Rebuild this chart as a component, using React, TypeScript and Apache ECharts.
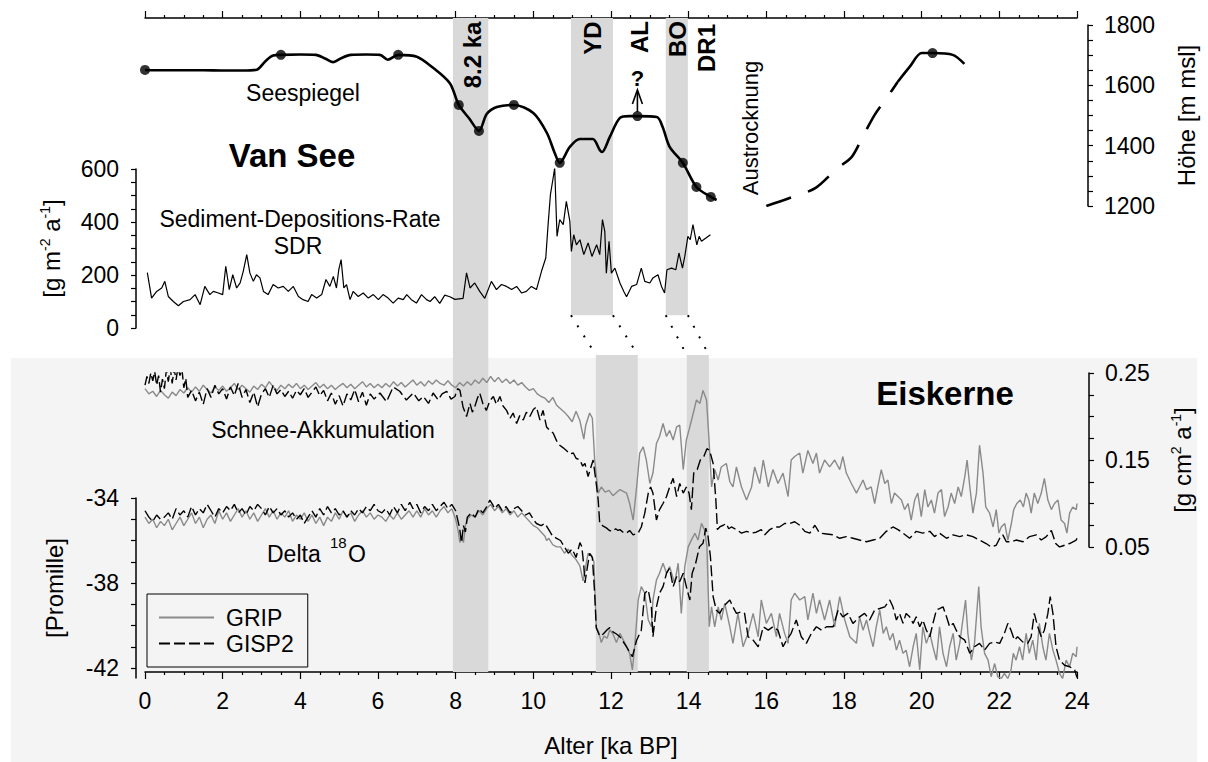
import React, { useEffect, useRef } from "react";
import * as echarts from "echarts";

const FONT = "'Liberation Sans', Arial, Helvetica, sans-serif";

// ---------- DATA (age in ka BP, value) ----------
const LAKE_LEVEL: [number, number][] = [
  [0, 1651], [0.5, 1650], [1.0, 1650], [1.5, 1650], [2.0, 1649], [2.5, 1649], [2.88, 1652], [3.1, 1680], [3.3, 1699], [3.5, 1701],
  [4.0, 1702], [4.4, 1701], [4.65, 1688], [4.85, 1677], [5.05, 1690], [5.3, 1701], [5.7, 1702], [6.05, 1701], [6.25, 1685], [6.52, 1701],
  [7.0, 1695], [7.4, 1660], [7.85, 1607], [8.08, 1535], [8.35, 1490], [8.6, 1449], [8.8, 1505], [9.06, 1528], [9.5, 1535], [10.0, 1508],
  [10.35, 1442], [10.55, 1376], [10.68, 1343], [10.94, 1396], [11.2, 1422], [11.53, 1422], [11.71, 1386], [11.77, 1379], [11.97, 1429],
  [12.23, 1492], [12.48, 1498], [12.68, 1498], [13.18, 1495], [13.33, 1462], [13.51, 1396], [13.85, 1343], [14.2, 1263], [14.57, 1230], [14.72, 1220],
];
const LAKE_LEVEL_RECONSTRUCTED: [number, number][] = [
  [16.0, 1200], [16.68, 1230], [17.27, 1260], [17.81, 1323], [18.2, 1363], [18.48, 1429], [18.79, 1502], [19.12, 1562], [19.38, 1611],
];
const LAKE_LEVEL_LGM: [number, number][] = [
  [19.38, 1611], [19.69, 1661], [20.0, 1707], [20.28, 1707], [20.8, 1701], [21.1, 1671],
];
const LAKE_DATED_POINTS: [number, number][] = [
  [0, 1651], [3.5, 1701], [6.52, 1701], [8.08, 1535], [8.6, 1449], [9.5, 1535], [10.68, 1343], [12.68, 1498],
  [13.85, 1343], [14.2, 1263], [14.57, 1230], [20.28, 1707],
];
const QUESTION_AGE = 12.68;

const SDR: [number, number][] = [
  [0.06, 209], [0.17, 113], [0.30, 138], [0.43, 151], [0.51, 176], [0.60, 119], [0.73, 100], [0.86, 84], [0.99, 100], [1.16, 107],
  [1.29, 126], [1.42, 88], [1.54, 157], [1.67, 126], [1.76, 138], [1.89, 132], [2.00, 126], [2.08, 233], [2.17, 145], [2.26, 201],
  [2.36, 151], [2.45, 170], [2.53, 214], [2.62, 277], [2.70, 208], [2.79, 176], [2.87, 201], [2.96, 189], [3.05, 138], [3.17, 126],
  [3.30, 164], [3.43, 151], [3.56, 157], [3.69, 138], [3.82, 157], [3.95, 119], [4.07, 107], [4.20, 100], [4.29, 126], [4.42, 113],
  [4.55, 126], [4.66, 183], [4.76, 157], [4.85, 195], [4.93, 151], [4.99, 220], [5.05, 258], [5.12, 151], [5.19, 164], [5.28, 107],
  [5.36, 138], [5.49, 119], [5.62, 132], [5.75, 113], [5.88, 126], [6.01, 107], [6.13, 126], [6.26, 113], [6.39, 94], [6.52, 113],
  [6.65, 107], [6.74, 126], [6.86, 107], [6.99, 94], [7.12, 126], [7.25, 107], [7.34, 100], [7.46, 118], [7.59, 93], [7.72, 124],
  [7.85, 118], [7.98, 108], [8.19, 112], [8.28, 208], [8.37, 151], [8.49, 170], [8.62, 138], [8.75, 112], [8.92, 176], [9.05, 145],
  [9.18, 164], [9.31, 157], [9.44, 145], [9.57, 157], [9.70, 132], [9.82, 138], [9.95, 157], [10.08, 145], [10.21, 214], [10.32, 264],
  [10.38, 390], [10.44, 503], [10.51, 566], [10.55, 604], [10.61, 346], [10.68, 409], [10.77, 390], [10.85, 478], [10.94, 403], [10.98, 289],
  [11.04, 352], [11.11, 314], [11.20, 333], [11.30, 277], [11.41, 321], [11.51, 270], [11.63, 314], [11.71, 277], [11.78, 409], [11.84, 365],
  [11.88, 207], [11.95, 327], [12.01, 207], [12.10, 226], [12.23, 170], [12.33, 138], [12.40, 118], [12.53, 157], [12.66, 164], [12.78, 226],
  [12.87, 176], [13.00, 170], [13.08, 189], [13.21, 201], [13.30, 157], [13.38, 132], [13.44, 220], [13.56, 226], [13.67, 220], [13.75, 283],
  [13.84, 226], [13.90, 270], [13.98, 346], [14.04, 333], [14.11, 390], [14.21, 314], [14.27, 346], [14.33, 327], [14.56, 352],
];

const GRIP_ACCUMULATION: [number, number][] = [
  [0.0, 0.232], [0.1, 0.226], [0.2, 0.229], [0.3, 0.223], [0.4, 0.230], [0.5, 0.225], [0.6, 0.221], [0.7, 0.228], [0.8, 0.224], [0.9, 0.231],
  [1.0, 0.227], [1.1, 0.233], [1.2, 0.228], [1.3, 0.234], [1.4, 0.229], [1.5, 0.236], [1.6, 0.231], [1.7, 0.227], [1.8, 0.234], [1.9, 0.230],
  [2.0, 0.235], [2.1, 0.229], [2.2, 0.233], [2.3, 0.238], [2.4, 0.231], [2.5, 0.236], [2.6, 0.232], [2.7, 0.228], [2.8, 0.235], [2.9, 0.231],
  [3.0, 0.237], [3.1, 0.233], [3.2, 0.240], [3.3, 0.234], [3.4, 0.230], [3.5, 0.236], [3.6, 0.232], [3.7, 0.237], [3.8, 0.233], [3.9, 0.238],
  [4.0, 0.232], [4.1, 0.236], [4.2, 0.231], [4.3, 0.235], [4.4, 0.239], [4.5, 0.233], [4.6, 0.237], [4.7, 0.232], [4.8, 0.236], [4.9, 0.231],
  [5.0, 0.235], [5.1, 0.238], [5.2, 0.233], [5.3, 0.237], [5.4, 0.232], [5.5, 0.236], [5.6, 0.240], [5.7, 0.234], [5.8, 0.238], [5.9, 0.233],
  [6.0, 0.237], [6.1, 0.233], [6.2, 0.238], [6.3, 0.234], [6.4, 0.240], [6.5, 0.235], [6.6, 0.239], [6.7, 0.234], [6.8, 0.238], [6.9, 0.242],
  [7.0, 0.236], [7.1, 0.240], [7.2, 0.235], [7.3, 0.241], [7.4, 0.237], [7.5, 0.242], [7.6, 0.238], [7.7, 0.236], [7.8, 0.241], [7.9, 0.236],
  [8.0, 0.233], [8.1, 0.239], [8.2, 0.235], [8.3, 0.240], [8.4, 0.236], [8.5, 0.242], [8.6, 0.238], [8.7, 0.244], [8.8, 0.239], [8.9, 0.246],
  [9.0, 0.240], [9.1, 0.245], [9.2, 0.239], [9.3, 0.243], [9.4, 0.238], [9.5, 0.242], [9.6, 0.236], [9.7, 0.239], [9.8, 0.234], [9.9, 0.230],
  [10.0, 0.232], [10.1, 0.226], [10.2, 0.223], [10.3, 0.221], [10.4, 0.216], [10.5, 0.222], [10.6, 0.213], [10.7, 0.209], [10.8, 0.205], [10.9, 0.200],
  [11.0, 0.194], [11.1, 0.206], [11.2, 0.195], [11.3, 0.174], [11.35, 0.190], [11.45, 0.204], [11.52, 0.198], [11.58, 0.150], [11.67, 0.112], [11.75, 0.119],
  [11.85, 0.113], [11.95, 0.115], [12.05, 0.109], [12.15, 0.113], [12.23, 0.116], [12.40, 0.112], [12.48, 0.100], [12.57, 0.081], [12.66, 0.119], [12.74, 0.158],
  [12.83, 0.165], [12.91, 0.150], [13.0, 0.123], [13.08, 0.135], [13.17, 0.169], [13.25, 0.177], [13.34, 0.192], [13.43, 0.177], [13.51, 0.184], [13.6, 0.173],
  [13.69, 0.188], [13.77, 0.190], [13.86, 0.139], [13.94, 0.173], [14.03, 0.188], [14.12, 0.204], [14.2, 0.219], [14.29, 0.215], [14.37, 0.230], [14.46, 0.219],
  [14.53, 0.169], [14.59, 0.119], [14.67, 0.139], [14.76, 0.127], [14.84, 0.142], [14.97, 0.146], [15.06, 0.125], [15.14, 0.119], [15.23, 0.142], [15.36, 0.119],
  [15.49, 0.104], [15.62, 0.119], [15.70, 0.142], [15.83, 0.123], [15.92, 0.150], [16.05, 0.119], [16.17, 0.139], [16.30, 0.123], [16.43, 0.135], [16.56, 0.108],
  [16.64, 0.150], [16.73, 0.154], [16.86, 0.158], [16.94, 0.135], [17.07, 0.161], [17.20, 0.146], [17.29, 0.158], [17.37, 0.135], [17.50, 0.150], [17.63, 0.142],
  [17.76, 0.150], [17.89, 0.139], [17.97, 0.154], [18.06, 0.135], [18.19, 0.123], [18.32, 0.112], [18.40, 0.119], [18.49, 0.127], [18.58, 0.116], [18.70, 0.119],
  [18.79, 0.100], [18.87, 0.119], [18.96, 0.139], [19.05, 0.123], [19.13, 0.127], [19.22, 0.100], [19.30, 0.112], [19.39, 0.108], [19.48, 0.104], [19.56, 0.093],
  [19.65, 0.100], [19.73, 0.081], [19.82, 0.104], [19.90, 0.112], [19.99, 0.085], [20.08, 0.116], [20.16, 0.096], [20.25, 0.104], [20.33, 0.089], [20.42, 0.112],
  [20.51, 0.116], [20.59, 0.085], [20.68, 0.096], [20.76, 0.112], [20.85, 0.100], [20.94, 0.119], [21.02, 0.108], [21.11, 0.131], [21.17, 0.150], [21.24, 0.119],
  [21.32, 0.089], [21.41, 0.112], [21.49, 0.167], [21.58, 0.135], [21.65, 0.096], [21.75, 0.089], [21.84, 0.073], [21.92, 0.093], [21.99, 0.066], [22.05, 0.073],
  [22.14, 0.077], [22.22, 0.058], [22.31, 0.077], [22.37, 0.093], [22.45, 0.100], [22.54, 0.104], [22.62, 0.096], [22.69, 0.112], [22.76, 0.104], [22.82, 0.089],
  [22.90, 0.112], [22.99, 0.100], [23.08, 0.112], [23.16, 0.129], [23.25, 0.104], [23.34, 0.093], [23.42, 0.100], [23.51, 0.104], [23.59, 0.081], [23.68, 0.077],
  [23.74, 0.066], [23.81, 0.089], [23.89, 0.096], [23.98, 0.093], [24.0, 0.100],
];

const GISP2_ACCUMULATION: [number, number][] = [
  [0.0, 0.236], [0.05, 0.246], [0.1, 0.238], [0.15, 0.250], [0.2, 0.241], [0.25, 0.252], [0.3, 0.236], [0.35, 0.247], [0.4, 0.228], [0.45, 0.243],
  [0.5, 0.232], [0.55, 0.254], [0.6, 0.240], [0.65, 0.256], [0.7, 0.238], [0.75, 0.255], [0.8, 0.242], [0.85, 0.257], [0.9, 0.247], [0.95, 0.255],
  [1.0, 0.233], [1.05, 0.244], [1.1, 0.222], [1.2, 0.230], [1.3, 0.218], [1.4, 0.228], [1.5, 0.214], [1.6, 0.232], [1.7, 0.222], [1.8, 0.236],
  [1.9, 0.226], [2.0, 0.232], [2.1, 0.220], [2.2, 0.234], [2.3, 0.224], [2.4, 0.238], [2.5, 0.222], [2.6, 0.231], [2.7, 0.216], [2.8, 0.228],
  [2.9, 0.211], [3.0, 0.226], [3.1, 0.232], [3.2, 0.222], [3.3, 0.236], [3.4, 0.226], [3.5, 0.231], [3.6, 0.223], [3.7, 0.229], [3.8, 0.221],
  [3.9, 0.230], [4.0, 0.225], [4.1, 0.232], [4.2, 0.222], [4.3, 0.228], [4.4, 0.234], [4.5, 0.224], [4.6, 0.230], [4.7, 0.218], [4.8, 0.227],
  [4.9, 0.214], [5.0, 0.224], [5.1, 0.212], [5.2, 0.226], [5.3, 0.219], [5.4, 0.231], [5.5, 0.217], [5.6, 0.228], [5.7, 0.213], [5.8, 0.226],
  [5.9, 0.220], [6.05, 0.227], [6.22, 0.217], [6.39, 0.234], [6.56, 0.229], [6.73, 0.219], [6.91, 0.227], [7.05, 0.218], [7.17, 0.223], [7.3, 0.215],
  [7.42, 0.227], [7.55, 0.219], [7.65, 0.226], [7.77, 0.229], [7.88, 0.220], [7.98, 0.223], [8.05, 0.232], [8.11, 0.230], [8.19, 0.211], [8.28, 0.200],
  [8.37, 0.215], [8.43, 0.205], [8.49, 0.211], [8.56, 0.221], [8.62, 0.227], [8.7, 0.215], [8.79, 0.207], [8.88, 0.218], [8.97, 0.223], [9.05, 0.214],
  [9.14, 0.223], [9.22, 0.212], [9.31, 0.207], [9.4, 0.198], [9.48, 0.204], [9.57, 0.192], [9.65, 0.201], [9.74, 0.196], [9.82, 0.205], [9.91, 0.200],
  [10.0, 0.208], [10.08, 0.211], [10.17, 0.196], [10.25, 0.207], [10.34, 0.188], [10.42, 0.184], [10.51, 0.181], [10.6, 0.172], [10.68, 0.167], [10.77, 0.164],
  [10.85, 0.161], [10.94, 0.157], [11.03, 0.158], [11.1, 0.152], [11.2, 0.150], [11.27, 0.143], [11.33, 0.146], [11.41, 0.131], [11.47, 0.140], [11.54, 0.150],
  [11.62, 0.123], [11.67, 0.104], [11.71, 0.077], [11.8, 0.074], [11.88, 0.072], [11.96, 0.069], [12.05, 0.068], [12.12, 0.071], [12.18, 0.069], [12.23, 0.070],
  [12.31, 0.067], [12.40, 0.066], [12.48, 0.069], [12.57, 0.064], [12.70, 0.066], [12.78, 0.073], [12.87, 0.089], [12.96, 0.112], [13.02, 0.119], [13.08, 0.112],
  [13.17, 0.081], [13.25, 0.093], [13.34, 0.100], [13.43, 0.108], [13.51, 0.119], [13.60, 0.129], [13.69, 0.108], [13.77, 0.123], [13.86, 0.112], [13.94, 0.119],
  [14.01, 0.112], [14.07, 0.093], [14.13, 0.135], [14.22, 0.139], [14.30, 0.150], [14.39, 0.154], [14.47, 0.163], [14.54, 0.161], [14.63, 0.146], [14.70, 0.104],
  [14.74, 0.070], [14.80, 0.073], [14.89, 0.075], [14.97, 0.077], [15.03, 0.071], [15.10, 0.073], [15.23, 0.070], [15.36, 0.066], [15.49, 0.068], [15.62, 0.066],
  [15.74, 0.067], [15.87, 0.070], [15.96, 0.064], [16.09, 0.070], [16.21, 0.073], [16.34, 0.073], [16.47, 0.077], [16.60, 0.077], [16.73, 0.079], [16.86, 0.075],
  [16.99, 0.068], [17.12, 0.066], [17.25, 0.075], [17.37, 0.066], [17.55, 0.065], [17.72, 0.064], [17.89, 0.060], [18.06, 0.062], [18.23, 0.060], [18.40, 0.058],
  [18.58, 0.056], [18.75, 0.058], [18.92, 0.060], [19.09, 0.068], [19.26, 0.073], [19.39, 0.070], [19.52, 0.066], [19.69, 0.060], [19.86, 0.068], [20.03, 0.066],
  [20.21, 0.068], [20.33, 0.062], [20.46, 0.066], [20.64, 0.060], [20.81, 0.064], [20.98, 0.062], [21.15, 0.064], [21.32, 0.062], [21.49, 0.058], [21.66, 0.054],
  [21.79, 0.050], [21.92, 0.052], [22.01, 0.060], [22.09, 0.064], [22.18, 0.056], [22.31, 0.056], [22.43, 0.058], [22.61, 0.056], [22.78, 0.062], [22.95, 0.064],
  [23.08, 0.058], [23.21, 0.062], [23.34, 0.069], [23.45, 0.054], [23.55, 0.050], [23.68, 0.052], [23.81, 0.054], [23.98, 0.058], [24.0, 0.060],
];

const GRIP_DELTA18O: [number, number][] = [
  [0.0, -34.9], [0.1, -35.2], [0.2, -35.0], [0.3, -35.4], [0.4, -35.1], [0.5, -35.3], [0.6, -35.0], [0.7, -35.5], [0.8, -35.2], [0.9, -34.9],
  [1.0, -35.3], [1.1, -35.0], [1.2, -34.7], [1.3, -35.2], [1.4, -34.9], [1.5, -35.4], [1.6, -35.0], [1.7, -34.8], [1.8, -35.2], [1.9, -34.6],
  [2.0, -35.0], [2.1, -34.7], [2.2, -35.1], [2.3, -34.8], [2.4, -34.5], [2.5, -34.9], [2.6, -34.6], [2.7, -35.0], [2.8, -34.7], [2.9, -35.1],
  [3.0, -34.8], [3.1, -34.5], [3.2, -34.9], [3.3, -34.6], [3.4, -35.0], [3.5, -34.7], [3.6, -34.9], [3.7, -34.6], [3.8, -35.1], [3.9, -34.8],
  [4.0, -35.0], [4.1, -34.7], [4.2, -35.1], [4.3, -34.8], [4.4, -35.2], [4.5, -34.9], [4.6, -35.3], [4.7, -34.9], [4.8, -35.1], [4.9, -34.7],
  [5.0, -35.0], [5.1, -34.6], [5.2, -34.9], [5.3, -34.7], [5.4, -35.1], [5.5, -34.8], [5.6, -34.6], [5.7, -34.9], [5.8, -34.7], [5.9, -35.0],
  [6.0, -34.8], [6.1, -34.9], [6.2, -35.1], [6.3, -34.8], [6.4, -35.0], [6.5, -34.7], [6.6, -35.0], [6.7, -34.8], [6.8, -34.6], [6.9, -34.9],
  [7.0, -34.6], [7.1, -34.9], [7.2, -34.5], [7.3, -34.8], [7.4, -34.6], [7.5, -34.9], [7.6, -34.6], [7.7, -34.4], [7.8, -34.7], [7.9, -34.5],
  [8.0, -35.0], [8.05, -35.4], [8.11, -36.1], [8.15, -35.8], [8.2, -36.1], [8.25, -35.3], [8.3, -35.0], [8.4, -34.8], [8.5, -34.9], [8.6, -34.6],
  [8.7, -34.8], [8.8, -34.5], [8.9, -34.3], [9.0, -34.6], [9.1, -34.4], [9.2, -34.7], [9.3, -34.5], [9.4, -34.8], [9.5, -34.6], [9.6, -34.9],
  [9.7, -34.7], [9.8, -34.9], [9.9, -35.1], [10.0, -35.3], [10.1, -35.4], [10.2, -35.6], [10.3, -35.8], [10.34, -36.0], [10.4, -35.9], [10.5, -36.2],
  [10.6, -36.3], [10.7, -36.3], [10.8, -36.6], [10.9, -36.4], [11.0, -36.7], [11.1, -36.9], [11.2, -37.2], [11.28, -37.9], [11.32, -37.6], [11.36, -37.1],
  [11.41, -36.6], [11.5, -36.7], [11.56, -37.0], [11.62, -40.1], [11.68, -40.3], [11.75, -40.8], [11.82, -40.5], [11.9, -40.6], [11.97, -40.2], [12.05, -40.4],
  [12.14, -40.8], [12.23, -40.37], [12.36, -40.84], [12.48, -41.31], [12.55, -42.09], [12.61, -41.0], [12.70, -38.8], [12.78, -38.17], [12.87, -38.48], [12.96, -39.74],
  [13.04, -40.06], [13.08, -38.8], [13.17, -37.86], [13.25, -37.54], [13.34, -37.07], [13.43, -37.54], [13.51, -37.23], [13.64, -38.01], [13.73, -37.07], [13.81, -39.43],
  [13.90, -37.23], [13.99, -36.29], [14.07, -35.98], [14.16, -35.66], [14.24, -35.98], [14.33, -35.19], [14.41, -35.51], [14.47, -36.29], [14.53, -40.06], [14.59, -39.12],
  [14.67, -40.06], [14.76, -39.12], [14.84, -39.74], [14.93, -38.96], [15.06, -40.06], [15.14, -40.84], [15.27, -39.43], [15.40, -41.0], [15.53, -40.37], [15.66, -39.43],
  [15.79, -40.53], [15.87, -38.8], [16.0, -39.9], [16.13, -39.43], [16.26, -40.53], [16.34, -39.43], [16.47, -40.37], [16.56, -40.84], [16.64, -38.8], [16.73, -38.48],
  [16.86, -38.8], [16.99, -38.64], [17.07, -39.74], [17.20, -38.48], [17.29, -39.43], [17.37, -38.8], [17.50, -39.74], [17.63, -38.8], [17.76, -40.06], [17.89, -38.64],
  [18.02, -39.74], [18.15, -40.53], [18.32, -40.84], [18.40, -39.59], [18.49, -40.22], [18.58, -39.74], [18.66, -40.37], [18.75, -41.0], [18.83, -40.06], [18.92, -39.27],
  [19.01, -40.37], [19.09, -40.06], [19.18, -40.69], [19.26, -40.37], [19.35, -41.16], [19.43, -40.69], [19.52, -41.31], [19.60, -41.16], [19.69, -41.94], [19.78, -41.0],
  [19.86, -40.37], [19.95, -42.09], [20.03, -40.06], [20.12, -40.84], [20.21, -40.37], [20.29, -41.0], [20.38, -41.63], [20.46, -40.06], [20.55, -41.31], [20.64, -41.94],
  [20.72, -41.0], [20.81, -40.37], [20.89, -41.63], [20.98, -40.84], [21.06, -39.74], [21.13, -38.8], [21.19, -40.37], [21.28, -41.63], [21.36, -40.84], [21.47, -38.17],
  [21.53, -40.06], [21.62, -41.31], [21.71, -41.63], [21.79, -42.41], [21.88, -41.79], [21.96, -42.41], [22.05, -42.5], [22.13, -42.25], [22.22, -42.5], [22.30, -42.09],
  [22.36, -41.31], [22.43, -41.63], [22.52, -41.0], [22.60, -41.63], [22.69, -40.37], [22.77, -41.31], [22.86, -40.69], [22.95, -41.63], [23.03, -39.9], [23.12, -41.0],
  [23.20, -41.63], [23.29, -40.37], [23.38, -41.16], [23.46, -41.63], [23.55, -42.25], [23.63, -42.5], [23.72, -41.63], [23.81, -41.94], [23.89, -41.31], [23.98, -41.47],
  [24.0, -41.0],
];

const GISP2_DELTA18O: [number, number][] = [
  [0.0, -34.6], [0.1, -34.9], [0.2, -35.1], [0.3, -34.8], [0.4, -35.0], [0.5, -34.9], [0.6, -34.7], [0.7, -35.0], [0.8, -34.5], [0.9, -34.8],
  [1.0, -34.6], [1.1, -34.9], [1.2, -34.4], [1.3, -34.8], [1.4, -34.5], [1.5, -34.7], [1.6, -34.3], [1.7, -34.6], [1.8, -34.9], [1.9, -34.5],
  [2.0, -34.7], [2.1, -34.4], [2.2, -34.6], [2.3, -34.3], [2.4, -34.7], [2.5, -34.5], [2.6, -34.8], [2.7, -34.4], [2.8, -34.6], [2.9, -34.3],
  [3.0, -34.5], [3.1, -34.8], [3.2, -34.4], [3.3, -34.7], [3.4, -34.5], [3.5, -34.8], [3.6, -34.6], [3.7, -34.9], [3.8, -34.7], [3.9, -35.0],
  [4.0, -34.8], [4.1, -35.2], [4.2, -34.9], [4.3, -34.6], [4.4, -34.9], [4.5, -34.5], [4.6, -34.8], [4.7, -34.4], [4.8, -34.7], [4.9, -34.5],
  [5.0, -34.8], [5.1, -34.6], [5.2, -34.9], [5.3, -34.6], [5.4, -34.8], [5.5, -34.5], [5.6, -34.7], [5.7, -34.4], [5.8, -34.6], [5.9, -34.3],
  [6.0, -34.6], [6.1, -34.7], [6.2, -34.5], [6.3, -34.8], [6.4, -34.4], [6.5, -34.7], [6.6, -34.3], [6.7, -34.6], [6.82, -34.2], [6.9, -34.5],
  [7.0, -34.3], [7.1, -34.7], [7.2, -34.4], [7.3, -34.6], [7.4, -34.3], [7.5, -34.6], [7.6, -34.4], [7.7, -34.2], [7.8, -34.5], [7.9, -34.3],
  [8.0, -34.6], [8.1, -35.4], [8.15, -36.1], [8.2, -35.3], [8.25, -35.6], [8.3, -34.9], [8.4, -34.7], [8.5, -34.9], [8.6, -34.5], [8.7, -34.7],
  [8.8, -34.4], [8.88, -34.1], [8.95, -34.3], [9.0, -34.5], [9.1, -34.3], [9.2, -34.6], [9.3, -34.4], [9.4, -34.7], [9.5, -34.5], [9.6, -34.4],
  [9.7, -34.6], [9.8, -34.8], [9.9, -34.7], [10.0, -35.0], [10.08, -35.2], [10.2, -35.3], [10.3, -35.2], [10.4, -35.5], [10.5, -35.8], [10.6, -35.9],
  [10.7, -36.0], [10.8, -36.3], [10.9, -36.6], [11.0, -36.4], [11.1, -36.8], [11.2, -36.1], [11.25, -36.3], [11.3, -37.2], [11.33, -38.0], [11.37, -37.5],
  [11.45, -36.6], [11.52, -36.8], [11.58, -38.5], [11.62, -40.1], [11.71, -40.5], [11.8, -40.4], [11.9, -40.2], [11.97, -40.1], [12.05, -40.3], [12.14, -40.4],
  [12.23, -40.53], [12.40, -41.0], [12.55, -41.47], [12.66, -40.69], [12.78, -40.22], [12.87, -38.48], [12.96, -38.33], [13.04, -39.12], [13.08, -40.53], [13.17, -39.12],
  [13.25, -38.48], [13.34, -38.17], [13.43, -37.54], [13.51, -37.31], [13.60, -38.17], [13.69, -37.7], [13.77, -37.93], [13.86, -37.54], [13.94, -38.17], [14.03, -38.8],
  [14.09, -37.54], [14.18, -37.07], [14.28, -36.29], [14.37, -36.13], [14.44, -35.42], [14.50, -35.82], [14.56, -36.76], [14.63, -38.64], [14.71, -39.27], [14.80, -39.43],
  [14.89, -39.12], [14.97, -38.96], [15.06, -38.8], [15.14, -39.12], [15.23, -39.43], [15.36, -39.35], [15.44, -39.43], [15.53, -40.53], [15.66, -40.69], [15.79, -41.0],
  [15.92, -40.06], [16.05, -40.22], [16.17, -40.06], [16.30, -40.22], [16.43, -41.0], [16.52, -40.69], [16.64, -40.37], [16.77, -39.74], [16.90, -40.53], [17.03, -40.84],
  [17.16, -40.37], [17.29, -40.06], [17.42, -40.22], [17.55, -40.06], [17.72, -40.06], [17.85, -39.27], [17.97, -39.59], [18.10, -39.43], [18.23, -39.9], [18.40, -39.59],
  [18.53, -39.43], [18.66, -39.74], [18.79, -39.27], [18.92, -39.2], [19.05, -39.12], [19.18, -38.8], [19.26, -39.12], [19.35, -39.74], [19.43, -39.43], [19.52, -39.9],
  [19.60, -39.43], [19.69, -39.59], [19.78, -39.9], [19.86, -39.59], [19.95, -40.06], [20.03, -39.74], [20.12, -40.22], [20.21, -40.53], [20.29, -39.9], [20.38, -39.27],
  [20.46, -39.2], [20.55, -39.12], [20.64, -39.59], [20.72, -40.06], [20.81, -39.9], [20.89, -40.22], [20.98, -40.53], [21.11, -40.69], [21.24, -41.31], [21.36, -41.0],
  [21.49, -40.84], [21.62, -41.16], [21.75, -40.84], [21.88, -40.77], [22.01, -40.84], [22.13, -40.37], [22.22, -39.9], [22.30, -40.22], [22.39, -40.69], [22.47, -40.53],
  [22.60, -40.77], [22.73, -40.84], [22.82, -40.53], [22.90, -39.43], [22.99, -40.06], [23.08, -40.53], [23.16, -40.22], [23.25, -39.43], [23.31, -38.64], [23.38, -39.43],
  [23.46, -41.0], [23.55, -41.63], [23.68, -41.87], [23.81, -41.94], [23.94, -42.09], [24.0, -42.45],
];

// climate events (ka BP)
const EVENT_82 = [7.93, 8.84];
const LAKE_EVENT_BANDS = [[10.97, 12.05], [13.41, 13.98]]; // YD, BO in Van See chronology
const ICE_EVENT_BANDS = [[11.61, 12.69], [13.95, 14.52]]; // YD, BO in ice cores

// ---------- LAYOUT ----------
const GRID_LEFT = 145;
const GRID_W = 932;
const FRAME_TOP = 18;
const FRAME_H = 660;
const LAKE_BAND_END = 300; // px below frame top
const ICE_BAND_START = 340;
const xPix = (ka: number) => GRID_LEFT + (ka / 24) * GRID_W;

const BLACK = "#000000";
const GREY = "#8a8a8a";
const BAND = "#d9d9d9";

const axisLineStyle = { show: true, onZero: false, lineStyle: { color: BLACK, width: 1.5 } };
const tickStyle = { show: true, inside: false, length: 5, lineStyle: { color: BLACK, width: 1.2 } };
const tickLabel = { color: BLACK, fontSize: 23, fontFamily: FONT };
const nameStyle = { color: BLACK, fontSize: 24, fontFamily: FONT };
const hiddenX = (gridIndex: number) => ({ gridIndex, type: "value", min: 0, max: 24, show: false });
const plain = (v: number) => String(v);

function buildOption() {
  const bandAreas: any[] = [
    [{ xAxis: EVENT_82[0], yAxis: 0 }, { xAxis: EVENT_82[1], yAxis: FRAME_H }],
    ...LAKE_EVENT_BANDS.map((b) => [{ xAxis: b[0], yAxis: 0 }, { xAxis: b[1], yAxis: LAKE_BAND_END }]),
    ...ICE_EVENT_BANDS.map((b) => [{ xAxis: b[0], yAxis: ICE_BAND_START }, { xAxis: b[1], yAxis: FRAME_H }]),
  ];
  const connectors: any[] = [];
  LAKE_EVENT_BANDS.forEach((b, i) => {
    connectors.push({ coords: [[b[0], LAKE_BAND_END], [ICE_EVENT_BANDS[i][0], ICE_BAND_START]] });
    connectors.push({ coords: [[b[1], LAKE_BAND_END], [ICE_EVENT_BANDS[i][1], ICE_BAND_START]] });
  });

  const qx = xPix(QUESTION_AGE);
  const txt = (text: string, x: number, y: number, extra: any = {}, rot = 0) => ({
    type: "text",
    x,
    y,
    rotation: rot,
    silent: true,
    z: 50,
    style: { text, fill: BLACK, fontFamily: FONT, fontSize: 23, align: "center", verticalAlign: "middle", ...extra },
  });
  const R = Math.PI / 2;

  return {
    animation: false,
    backgroundColor: "#ffffff",
    textStyle: { fontFamily: FONT },
    grid: [
      { left: GRID_LEFT, width: GRID_W, top: FRAME_TOP, height: FRAME_H },
      { left: GRID_LEFT, width: GRID_W, top: 25, height: 181 },
      { left: GRID_LEFT, width: GRID_W, top: 169, height: 159 },
      { left: GRID_LEFT, width: GRID_W, top: 373, height: 174 },
      { left: GRID_LEFT, width: GRID_W, top: 498, height: 180 },
    ],
    xAxis: [
      {
        gridIndex: 0, type: "value", position: "top", min: 0, max: 24, interval: 2,
        axisLine: axisLineStyle,
        axisTick: { ...tickStyle, length: 7 },
        minorTick: { show: true, splitNumber: 4, length: 3, lineStyle: { color: BLACK, width: 1.2 } },
        axisLabel: { show: false }, splitLine: { show: false }, minorSplitLine: { show: false },
      },
      {
        gridIndex: 0, type: "value", position: "bottom", min: 0, max: 24, interval: 2,
        axisLine: axisLineStyle,
        axisTick: { ...tickStyle, length: 7 },
        minorTick: { show: true, splitNumber: 4, length: 3, lineStyle: { color: BLACK, width: 1.2 } },
        axisLabel: { ...tickLabel, margin: 17, showMinLabel: true, showMaxLabel: true, formatter: plain },
        splitLine: { show: false }, minorSplitLine: { show: false },
        name: "Alter [ka BP]", nameLocation: "middle", nameGap: 61, nameTextStyle: nameStyle,
      },
      hiddenX(1), hiddenX(2), hiddenX(3), hiddenX(4),
    ],
    yAxis: [
      { gridIndex: 0, type: "value", min: 0, max: FRAME_H, inverse: true, show: false },
      {
        gridIndex: 1, type: "value", position: "right", offset: 11, min: 1200, max: 1800, interval: 50,
        axisLine: axisLineStyle, axisTick: tickStyle, splitLine: { show: false },
        axisLabel: { ...tickLabel, margin: 16, customValues: [1200, 1400, 1600, 1800], formatter: plain },
        name: "Höhe [m msl]", nameLocation: "middle", nameRotate: 90, nameGap: 86, nameTextStyle: nameStyle,
      },
      {
        gridIndex: 2, type: "value", position: "left", offset: 9, min: 0, max: 600, interval: 50,
        axisLine: axisLineStyle, axisTick: tickStyle, splitLine: { show: false },
        axisLabel: { ...tickLabel, margin: 17, customValues: [0, 200, 400, 600], formatter: plain },
        name: "[g m{s|-2} a{s|-1}]", nameLocation: "middle", nameRotate: 90, nameGap: 72,
        nameTextStyle: { ...nameStyle, rich: { s: { fontSize: 14, fontFamily: FONT, color: BLACK, verticalAlign: "top", lineHeight: 26 } } },
      },
      {
        gridIndex: 3, type: "value", position: "right", offset: 12, min: 0.05, max: 0.25, interval: 0.025,
        axisLine: axisLineStyle, axisTick: tickStyle, splitLine: { show: false },
        axisLabel: { ...tickLabel, margin: 16, customValues: [0.05, 0.15, 0.25], formatter: (v: number) => v.toFixed(2) },
        name: "[g cm{s|2} a{s|-1}]", nameLocation: "middle", nameRotate: 90, nameGap: 80,
        nameTextStyle: { ...nameStyle, rich: { s: { fontSize: 14, fontFamily: FONT, color: BLACK, verticalAlign: "top", lineHeight: 26 } } },
      },
      {
        gridIndex: 4, type: "value", position: "left", offset: 9, min: -42.47, max: -34,
        axisLine: axisLineStyle,
        axisTick: { ...tickStyle, customValues: [-42, -41, -40, -39, -38, -37, -36, -35, -34] },
        splitLine: { show: false },
        axisLabel: { ...tickLabel, margin: 17, customValues: [-42, -38, -34], formatter: plain },
        name: "[Promille]", nameLocation: "middle", nameRotate: 90, nameGap: 70, nameTextStyle: nameStyle,
      },
    ],
    legend: {
      data: ["GRIP", "GISP2"],
      orient: "vertical",
      left: 147,
      top: 594,
      padding: [12, 14, 12, 11],
      itemGap: 3,
      itemWidth: 55,
      itemHeight: 14,
      borderColor: BLACK,
      borderWidth: 1,
      selectedMode: false,
      itemStyle: { opacity: 0, borderWidth: 0 },
      textStyle: { color: BLACK, fontSize: 23, fontFamily: FONT, padding: [0, 0, 0, 7] },
    },
    graphic: [
      { type: "rect", silent: true, z: -10, shape: { x: 11, y: 358, width: 1186, height: 404 }, style: { fill: "#f4f4f4" } },
      txt("Seespiegel", 303, 93),
      txt("Van See", 292, 155, { fontSize: 33, fontWeight: "bold" }),
      txt("Sediment-Depositions-Rate", 300, 219),
      txt("SDR", 298, 246),
      txt("Schnee-Akkumulation", 323, 430),
      txt("Delta", 267, 554, { align: "left" }),
      txt("18", 330, 542, { align: "left", fontSize: 15 }),
      txt("O", 348, 554, { align: "left" }),
      txt("Eiskerne", 945, 393, { fontSize: 33, fontWeight: "bold" }),
      txt("8.2 ka", 472, 55, { fontSize: 24, fontWeight: "bold" }, R),
      txt("YD", 592, 38, { fontSize: 24, fontWeight: "bold" }, R),
      txt("AL", 639, 37, { fontSize: 24, fontWeight: "bold" }, R),
      txt("BO", 677, 39, { fontSize: 24, fontWeight: "bold" }, R),
      txt("DR1", 706, 48, { fontSize: 24, fontWeight: "bold" }, R),
      txt("Austrocknung", 750, 128, { fontSize: 22 }, R),
      txt("?", qx, 78, { fontSize: 22, fontWeight: "bold" }),
      { type: "line", silent: true, z: 50, shape: { x1: qx, y1: 112, x2: qx, y2: 91 }, style: { stroke: BLACK, lineWidth: 1.6 } },
      { type: "polyline", silent: true, z: 50, shape: { points: [[qx - 5, 104], [qx, 90], [qx + 5, 104]] }, style: { stroke: BLACK, lineWidth: 1.6, fill: null } },
    ],
    series: [
      {
        name: "bands", type: "line", xAxisIndex: 0, yAxisIndex: 0, data: [[0, 0]], symbol: "none", silent: true, z: 1,
        lineStyle: { opacity: 0 },
        markArea: { silent: true, itemStyle: { color: BAND }, data: bandAreas },
      },
      {
        name: "connectors", type: "lines", coordinateSystem: "cartesian2d", xAxisIndex: 0, yAxisIndex: 0, silent: true, z: 3,
        lineStyle: { color: BLACK, width: 2, type: [2, 10], opacity: 1, curveness: 0 },
        data: connectors,
      },
      {
        name: "Seespiegel", type: "line", xAxisIndex: 2, yAxisIndex: 1, data: LAKE_LEVEL, smooth: 0.3, symbol: "none", z: 4,
        lineStyle: { color: BLACK, width: 2.6 },
      },
      {
        name: "Seespiegel rekonstruiert", type: "line", xAxisIndex: 2, yAxisIndex: 1, data: LAKE_LEVEL_RECONSTRUCTED, smooth: 0.3, symbol: "none", z: 4,
        lineStyle: { color: BLACK, width: 2.6, type: [26, 18] },
      },
      {
        name: "Seespiegel LGM", type: "line", xAxisIndex: 2, yAxisIndex: 1, data: LAKE_LEVEL_LGM, smooth: 0.3, symbol: "none", z: 4,
        lineStyle: { color: BLACK, width: 2.6 },
      },
      {
        name: "Datierungen", type: "scatter", xAxisIndex: 2, yAxisIndex: 1, data: LAKE_DATED_POINTS, symbolSize: 10, z: 5,
        itemStyle: { color: BLACK },
      },
      {
        name: "SDR", type: "line", xAxisIndex: 3, yAxisIndex: 2, data: SDR, symbol: "none", z: 4,
        lineStyle: { color: BLACK, width: 1.2 },
      },
      {
        name: "GRIP", type: "line", xAxisIndex: 4, yAxisIndex: 3, data: GRIP_ACCUMULATION, symbol: "none", z: 4,
        lineStyle: { color: GREY, width: 1.4 }, itemStyle: { color: GREY },
      },
      {
        name: "GISP2", type: "line", xAxisIndex: 4, yAxisIndex: 3, data: GISP2_ACCUMULATION, symbol: "none", z: 5,
        lineStyle: { color: BLACK, width: 1.4, type: [11, 4] }, itemStyle: { color: BLACK },
      },
      {
        name: "GRIP", type: "line", xAxisIndex: 5, yAxisIndex: 4, data: GRIP_DELTA18O, symbol: "none", z: 4,
        lineStyle: { color: GREY, width: 1.4 }, itemStyle: { color: GREY },
      },
      {
        name: "GISP2", type: "line", xAxisIndex: 5, yAxisIndex: 4, data: GISP2_DELTA18O, symbol: "none", z: 5,
        lineStyle: { color: BLACK, width: 1.4, type: [11, 4] }, itemStyle: { color: BLACK },
      },
    ],
  };
}

export default function App() {
  const ref = useRef<HTMLDivElement>(null);
  useEffect(() => {
    if (!ref.current) return;
    const chart = echarts.init(ref.current, null, { renderer: "svg" });
    chart.setOption(buildOption() as any);
    return () => chart.dispose();
  }, []);
  return (
    <div
      ref={ref}
      style={{ position: "absolute", left: 0, top: 0, width: 1208, height: 762, background: "#ffffff" }}
    />
  );
}
